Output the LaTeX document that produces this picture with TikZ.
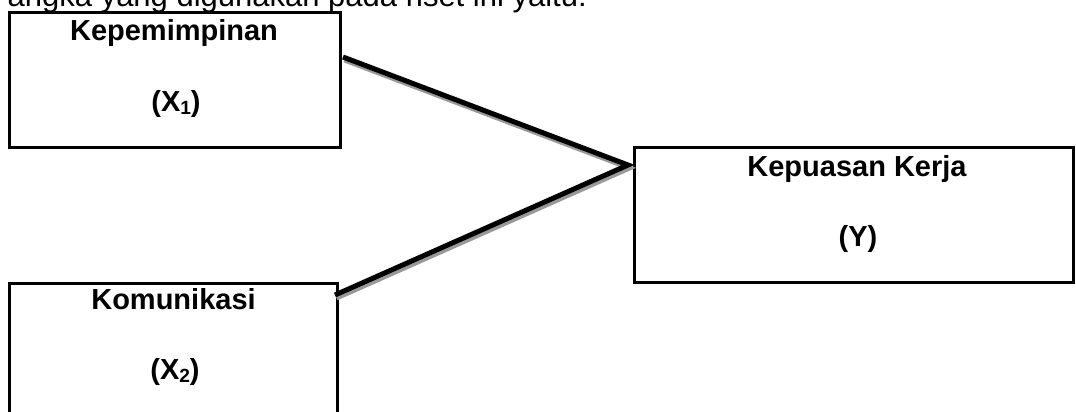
\documentclass[tikz,border=0pt]{standalone}
\usepackage{fontspec}
\setmainfont{Liberation Sans}
\usepackage{graphicx}
\newcommand{\sbs}[1]{\raisebox{-0.12em}{\scalebox{0.66}{#1}}}
\begin{document}
\begin{tikzpicture}[x=1pt,y=-1pt,
  boxstyle/.style={draw=black,line width=3pt,rectangle,inner sep=0pt},
  lbl/.style={anchor=base,inner sep=0pt,font=\fontsize{29}{32}\selectfont\bfseries},
  toptext/.style={anchor=base east,inner sep=0pt,font=\fontsize{31}{34}\selectfont},
  link/.style={line width=5pt,black},
  linkshadow/.style={line width=5pt,black!40}]
\useasboundingbox (0,0) rectangle (1076,412);
\clip (0,0) rectangle (1076,412);
\fill[white] (0,0) rectangle (1076,412);
% heading fragment
\node[toptext] (head) at (587,7) {angka yang digunakan pada riset ini yaitu:};
% boxes
\node[boxstyle,minimum width=331pt,minimum height=134pt] (b1) at (174.5,80) {};
\node[boxstyle,minimum width=328pt,minimum height=147pt] (b2) at (173,356.5) {};
\node[boxstyle,minimum width=439pt,minimum height=135pt] (b3) at (853.5,214.5) {};
% labels
\node[lbl] (t1a) at (174,41) {Kepemimpinan};
\node[lbl] (t1b) at (176,111) {(X\sbs{1})};
\node[lbl] (t2a) at (173.5,309) {Komunikasi};
\node[lbl] (t2b) at (175,379) {(X\sbs{2})};
\node[lbl] (t3a) at (857,176) {Kepuasan Kerja};
\node[lbl] (t3b) at (858,246) {(Y)};
% connectors
\coordinate (s1) at (343,57);
\coordinate (tip) at (628,165);
\coordinate (s2) at (335,295);
\draw[linkshadow] ([shift={(1.5pt,-3pt)}]s1) -- ([shift={(1.5pt,-3pt)}]tip) -- ([shift={(1.5pt,-3pt)}]s2);
\draw[link] (s1) -- (tip) -- (s2);
\end{tikzpicture}
\end{document}
